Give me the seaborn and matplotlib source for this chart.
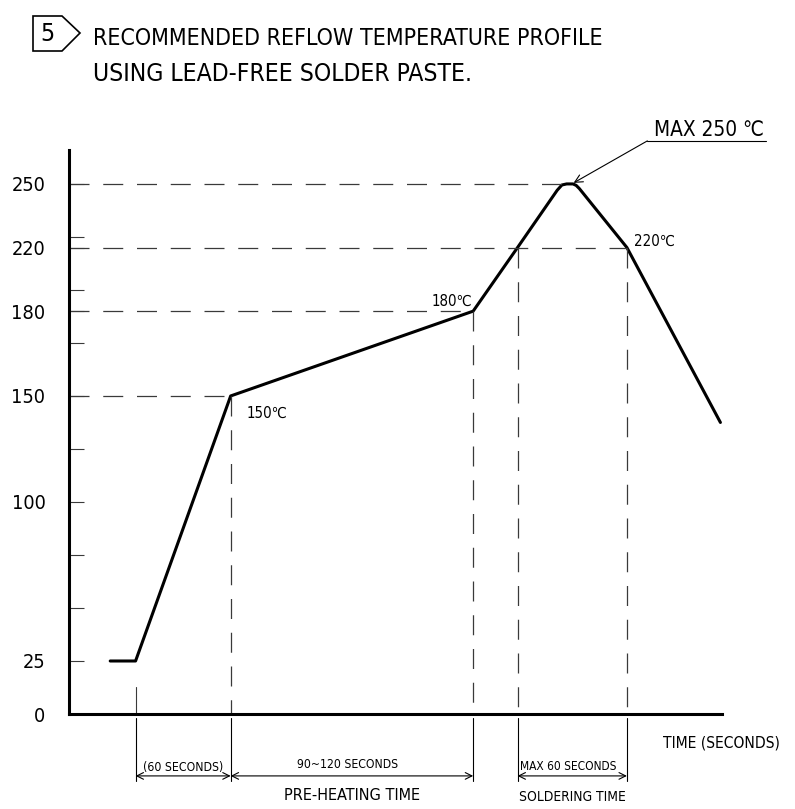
import numpy as np
import matplotlib
matplotlib.use("Agg")
import matplotlib.pyplot as plt
from matplotlib import font_manager as fm
from matplotlib.patches import Polygon
import seaborn as sns

# Reflow profile drawing (lead-free paste) --------------------------------

# Data ---------------------------------------------------------------------
# x in seconds (drawing is schematic), y in axis position units
# (the "180" level is drawn at the 190 position in the original)
profile_time_s = [26, 42, 102, 255, 283, 308, 311, 314, 318, 320, 322, 352, 411]
profile_temp = [25, 25, 150, 190, 220, 247, 249.5, 250, 250, 249.3, 247.8, 220, 137.5]

tick_pos = [0, 25, 100, 150, 190, 220, 250]
tick_labels = ["0", "25", "100", "150", "180", "220", "250"]
minor_pos = [50, 75, 125, 175, 200, 225]

# horizontal guide levels and where they stop on the curve
guide_levels = [150, 190, 220, 250]
guide_ends = [102, 255, 352, 314]

# vertical guides (time, top level)
vguide_time = [102, 255, 283, 352]
vguide_top = [150, 190, 220, 220]

# point labels
point_labels = ["150℃", "180℃", "220℃"]
point_label_x = [111.8, 228.5, 356.3]
point_label_y = [139.6, 192.5, 220.8]

# dimension lines under the time axis
ext_time = [42, 102, 255, 283, 352]
dims = [(42, 102), (102, 255), (283, 352)]
dim_top_text = ["(60 SECONDS)", "90~120 SECONDS", "MAX 60 SECONDS"]
dim_top_x = [71.7, 175.6, 315.2]
dim_top_y = [-26.9, -25.5, -26.4]
dim_bot_text = ["", "PRE-HEATING TIME", "SOLDERING TIME"]
dim_bot_y = [-40.6, -40.6, -41.0]

# Style ------------------------------------------------------------------
c_line = "black"
c_guide = "#3a3a3a"
lw_curve = 2.2
lw_thin = 0.8
grow = 1.12  # text a bit wider than the CAD font, so it is not too short

# narrow font if there is one (the drawing uses a thin CAD font)
narrow = [f for f in fm.fontManager.ttflist
          if ("Narrow" in f.fname or "Condensed" in f.fname)
          and not any(k in f.fname for k in ["Bold", "Italic", "Oblique"])]
narrow.sort(key=lambda f: 0 if "Liberation" in f.fname else 1)
if narrow:
    fam, stretch = narrow[0].name, narrow[0].stretch
else:
    fam, stretch = "DejaVu Sans", "normal"

sns.set_theme(style="white")
plt.rcParams["font.family"] = [fam, "DejaVu Sans"]
plt.rcParams["font.stretch"] = stretch
plt.rcParams["text.color"] = "black"
plt.rcParams["ytick.color"] = "black"

fig = plt.figure(figsize=(7.95, 8.09), dpi=100)
ax = fig.add_axes([69 / 795, 1 - 714 / 809, (722 - 69) / 795, (714 - 150) / 809])

# Curve --------------------------------------------------------------------
sns.lineplot(x=profile_time_s, y=profile_temp, color=c_line, lw=lw_curve,
             ax=ax, legend=False, sort=False, solid_joinstyle="round")

# Dashed guides
for lvl, xe in zip(guide_levels, guide_ends):
    ax.plot([0, xe], [lvl, lvl], color=c_guide, lw=0.9, dashes=(16, 11))
for xt, top in zip(vguide_time, vguide_top):
    ax.plot([xt, xt], [top, 0], color=c_guide, lw=0.9, dashes=(16, 11))

# small solid mark above axis at start of ramp
ax.plot([42, 42], [0, 12.7], color=c_guide, lw=0.8)

# Axes -----------------------------------------------------------------------
ax.set_xlim(0, 412)
ax.set_ylim(0, 266)
sns.despine(ax=ax)
for s in ["left", "bottom"]:
    ax.spines[s].set_linewidth(2.2)
    ax.spines[s].set_color("black")
ax.set_xticks([])
ax.set_yticks(tick_pos)
ax.set_yticklabels(tick_labels)
ax.set_yticks(minor_pos, minor=True)
ax.tick_params(axis="y", which="both", direction="in", length=11, width=0.8,
               color=c_guide, left=True)
ax.tick_params(axis="y", which="major", labelsize=18, pad=17)
ax.set_xlabel("")
ax.set_ylabel("")

fitted = []  # (text, width in px as in the drawing)

# Point labels
for t, x, y in zip(point_labels, point_label_x, point_label_y):
    fitted.append((ax.text(x, y, t, fontsize=13, va="baseline", ha="left"), 41))

# MAX 250 leader
ax.annotate("", xy=(318.4, 250.5), xytext=(364.9, 270.3),
            arrowprops=dict(arrowstyle="->", lw=lw_thin, color=c_line,
                            shrinkA=0, shrinkB=0, mutation_scale=14),
            annotation_clip=False)
ax.plot([364.9, 439.7], [270.3, 270.3], color=c_line, lw=lw_thin, clip_on=False)
fitted.append((ax.text(368.9, 272.6, "MAX 250 ℃", fontsize=18,
                       va="baseline", ha="left"), 110))

# Dimension lines under the axis
top_w = [80, 100, 96]
bot_w = [0, 136, 106]
for i, ((x0, x1), t1, tx, ty, t2, by) in enumerate(
        zip(dims, dim_top_text, dim_top_x, dim_top_y, dim_bot_text, dim_bot_y)):
    ax.annotate("", xy=(x0, -29.2), xytext=(x1, -29.2),
                arrowprops=dict(arrowstyle="<->", lw=lw_thin, color=c_line,
                                shrinkA=0, shrinkB=0, mutation_scale=12),
                annotation_clip=False)
    fitted.append((ax.text(tx, ty, t1, fontsize=11, ha="center", va="baseline"),
                   top_w[i]))
    if t2:
        fitted.append((ax.text((x0 + x1) / 2, by, t2, fontsize=12.5,
                               ha="center", va="baseline"), bot_w[i]))
for xt in ext_time:
    ax.plot([xt, xt], [-1.9, -31.6], color=c_line, lw=lw_thin, clip_on=False)

fitted.append((ax.text(374.6, -15.6, "TIME (SECONDS)", fontsize=14,
                       ha="left", va="baseline"), 118))

# Title with numbered tag -------------------------------------------------
tag = [(33, 16), (62, 16), (80, 33), (62, 51), (33, 51)]
tag = [(x / 795, 1 - y / 809) for x, y in tag]
fig.add_artist(Polygon(tag, closed=True, fill=False, lw=1.2, ec="black",
                       transform=fig.transFigure))
fig.text(47 / 795, 1 - 34 / 809, "5", fontsize=18, ha="center", va="center")
fitted.append((fig.text(93 / 795, 1 - 45 / 809,
                        "RECOMMENDED REFLOW TEMPERATURE PROFILE",
                        fontsize=20, ha="left", va="baseline"), 456 * grow))
fitted.append((fig.text(93 / 795, 1 - 81 / 809, "USING LEAD-FREE SOLDER PASTE.",
                        fontsize=20, ha="left", va="baseline"), 340 * grow))

# size texts so their widths match the drawing
fig.canvas.draw()
r = fig.canvas.get_renderer()
for t, w in fitted:
    t.set_fontsize(t.get_fontsize() * w / t.get_window_extent(r).width)
lab = ax.get_yticklabels()[-1]
ax.tick_params(axis="y", which="major",
               labelsize=18 * 34 / lab.get_window_extent(r).width)

fig.savefig("out.png", dpi=100, facecolor="white")
